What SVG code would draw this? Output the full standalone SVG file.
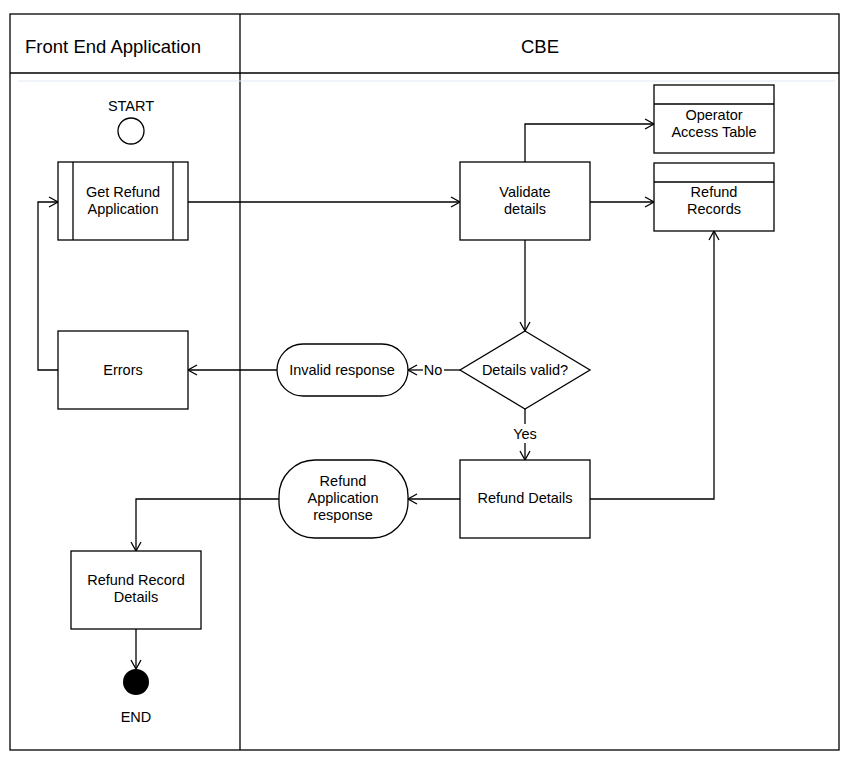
<svg xmlns="http://www.w3.org/2000/svg" width="858" height="768" viewBox="0 0 858 768">
<style>
.s{fill:#fff;stroke:#000;stroke-width:1.3}
.c{fill:none;stroke:#000;stroke-width:1.3}
text{font-family:"Liberation Sans",Arial,sans-serif;font-size:14.5px;fill:#000;text-anchor:middle}
.h{font-size:18.5px}
</style>
<defs>
<marker id="a" viewBox="0 0 10 12" refX="10" refY="6" markerWidth="10" markerHeight="12" markerUnits="userSpaceOnUse" orient="auto">
<path d="M1,1 L10,6 L1,11" fill="none" stroke="#000" stroke-width="1.3"/>
</marker>
</defs>
<rect width="858" height="768" fill="#fff"/>
<g id="pool">
<rect x="10" y="14" width="829" height="736" fill="none" stroke="#000" stroke-width="1.3"/>
<line x1="10" y1="73" x2="839" y2="73" stroke="#000" stroke-width="1.3"/>
<line x1="240" y1="14" x2="240" y2="750" stroke="#000" stroke-width="1.3"/>
<line x1="18" y1="81" x2="835" y2="81" stroke="#e2e8f2" stroke-width="1"/>
<text class="h" x="113" y="53">Front End Application</text>
<text class="h" x="540" y="53">CBE</text>
</g>
<g id="connectors">
<line class="c" x1="188" y1="202" x2="460" y2="202" marker-end="url(#a)"/>
<polyline class="c" points="525,162 525,124 654,124" marker-end="url(#a)"/>
<line class="c" x1="590" y1="202" x2="654" y2="202" marker-end="url(#a)"/>
<line class="c" x1="525" y1="240" x2="525" y2="331" marker-end="url(#a)"/>
<line class="c" x1="460" y1="370" x2="444" y2="370"/>
<line class="c" x1="423" y1="370" x2="408" y2="370" marker-end="url(#a)"/>
<text x="433" y="375">No</text>
<line class="c" x1="277" y1="370" x2="188" y2="370" marker-end="url(#a)"/>
<polyline class="c" points="58,370 38,370 38,202 58,202" marker-end="url(#a)"/>
<line class="c" x1="525" y1="409" x2="525" y2="424"/>
<line class="c" x1="525" y1="443" x2="525" y2="460" marker-end="url(#a)"/>
<text x="525" y="439">Yes</text>
<polyline class="c" points="590,499 714,499 714,231" marker-end="url(#a)"/>
<line class="c" x1="460" y1="499" x2="408" y2="499" marker-end="url(#a)"/>
<polyline class="c" points="279,499 136,499 136,551" marker-end="url(#a)"/>
<line class="c" x1="136" y1="629" x2="136" y2="669" marker-end="url(#a)"/>
</g>
<g id="start">
<text x="131" y="111">START</text>
<circle class="s" cx="131" cy="131" r="13"/>
</g>
<g id="get-refund">
<rect class="s" x="58" y="162" width="130" height="78"/>
<line class="c" x1="73" y1="162" x2="73" y2="240"/>
<line class="c" x1="173" y1="162" x2="173" y2="240"/>
<text x="123" y="197">Get Refund</text>
<text x="123" y="214">Application</text>
</g>
<g id="validate">
<rect class="s" x="460" y="162" width="130" height="78"/>
<text x="525" y="197">Validate</text>
<text x="525" y="214">details</text>
</g>
<g id="operator-access">
<rect class="s" x="654" y="85" width="120" height="68"/>
<line class="c" x1="654" y1="104" x2="774" y2="104"/>
<text x="714" y="120">Operator</text>
<text x="714" y="137">Access Table</text>
</g>
<g id="refund-records">
<rect class="s" x="654" y="163" width="120" height="68"/>
<line class="c" x1="654" y1="182" x2="774" y2="182"/>
<text x="714" y="197">Refund</text>
<text x="714" y="214">Records</text>
</g>
<g id="details-valid">
<polygon class="s" points="525,331 590,370 525,409 460,370"/>
<text x="525" y="375">Details valid?</text>
</g>
<g id="invalid-response">
<rect class="s" x="277" y="344" width="131" height="52" rx="26" ry="26"/>
<text x="342" y="375">Invalid response</text>
</g>
<g id="errors">
<rect class="s" x="58" y="331" width="130" height="78"/>
<text x="123" y="375">Errors</text>
</g>
<g id="refund-details">
<rect class="s" x="460" y="460" width="130" height="78"/>
<text x="525" y="503">Refund Details</text>
</g>
<g id="refund-app-response">
<rect class="s" x="279" y="460" width="129" height="78" rx="36" ry="36"/>
<text x="343" y="486">Refund</text>
<text x="343" y="503">Application</text>
<text x="343" y="520">response</text>
</g>
<g id="refund-record-details">
<rect class="s" x="71" y="551" width="130" height="78"/>
<text x="136" y="585">Refund Record</text>
<text x="136" y="602">Details</text>
</g>
<g id="end">
<circle cx="136" cy="682" r="13" fill="#000"/>
<text x="136" y="722">END</text>
</g>
</svg>
